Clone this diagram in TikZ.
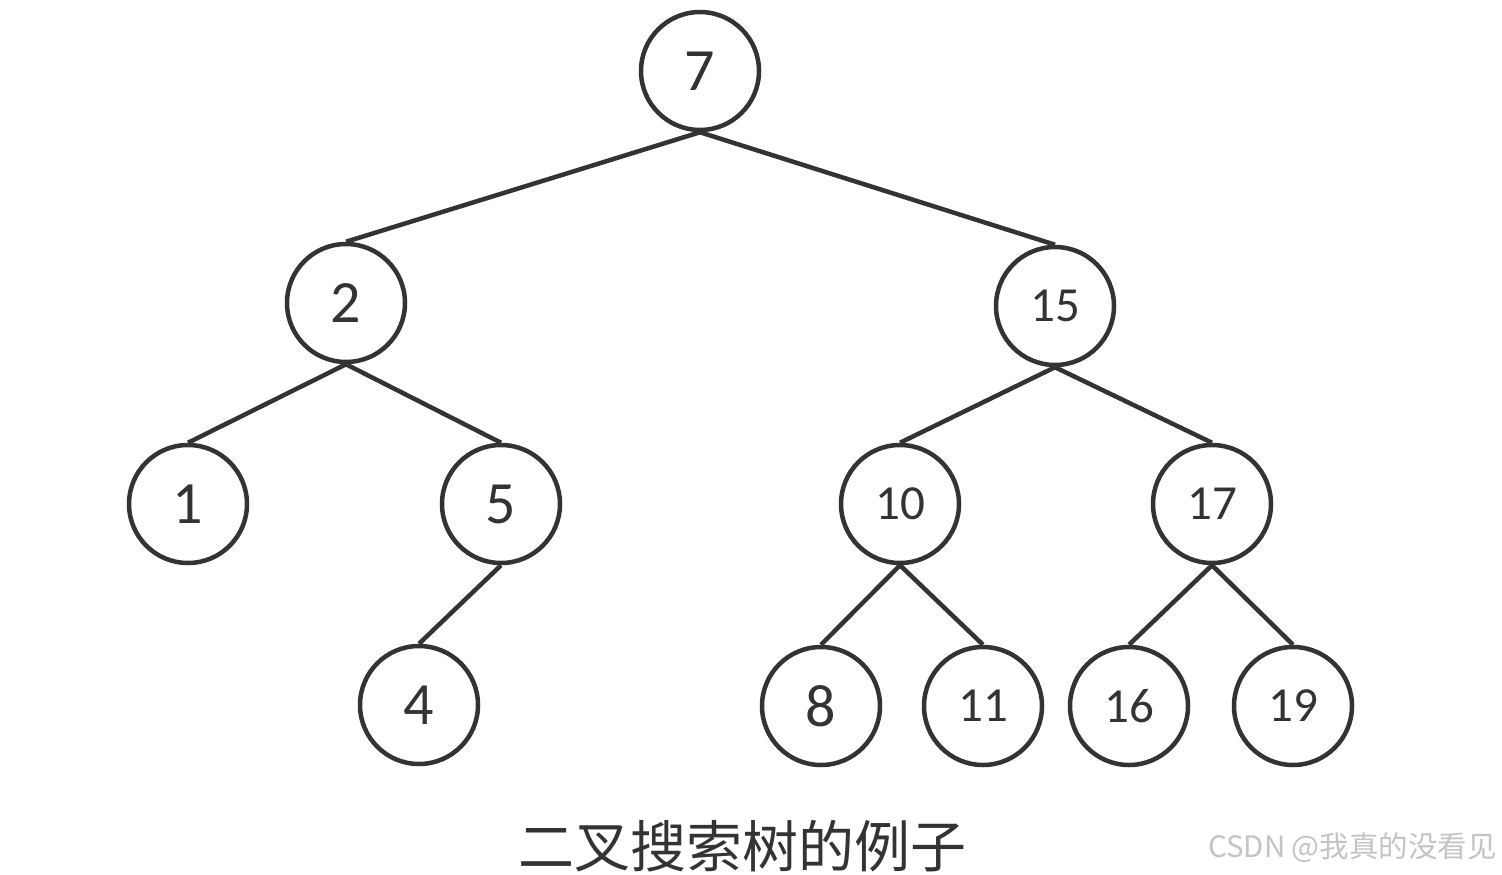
\documentclass[tikz,border=0pt]{standalone}
\usepackage{fontspec}
\setmainfont{Carlito}
\newfontfamily\cjk{Noto Sans CJK SC}
\definecolor{ink}{HTML}{333333}
\definecolor{wm}{HTML}{C4C4C4}
\tikzset{
  tnode/.style={circle, draw=ink, line width=4.5pt, minimum size=118pt, inner sep=0pt, text=ink},
  big/.style={font=\fontsize{60}{60}\selectfont},
  small/.style={font=\fontsize{49}{49}\selectfont},
  edge/.style={draw=ink, line width=4.5pt}
}
\begin{document}
\begin{tikzpicture}[x=1pt,y=-1pt]
\useasboundingbox[fill=white] (0,0) rectangle (1502,875);
\node[tnode,big] (n7) at (700,71) {7};
\node[tnode,big] (n2) at (346,303) {2};
\node[tnode,small] (n15) at (1055,306) {15};
\node[tnode,big] (n1) at (188,504) {1};
\node[tnode,big] (n5) at (501,504) {5};
\node[tnode,small] (n10) at (900,504) {10};
\node[tnode,small] (n17) at (1212,504) {17};
\node[tnode,big] (n4) at (419,705) {4};
\node[tnode,big] (n8) at (821,706) {8};
\node[tnode,small] (n11) at (983,706) {11};
\node[tnode,small] (n16) at (1129,706) {16};
\node[tnode,small] (n19) at (1293,706) {19};
\draw[edge] (n7.south) -- (n2.north);
\draw[edge] (n7.south) -- (n15.north);
\draw[edge] (n2.south) -- (n1.north);
\draw[edge] (n2.south) -- (n5.north);
\draw[edge] (n5.south) -- (n4.north);
\draw[edge] (n15.south) -- (n10.north);
\draw[edge] (n15.south) -- (n17.north);
\draw[edge] (n10.south) -- (n8.north);
\draw[edge] (n10.south) -- (n11.north);
\draw[edge] (n17.south) -- (n16.north);
\draw[edge] (n17.south) -- (n19.north);
\node[text=ink, font=\cjk\fontsize{56}{56}\selectfont, inner sep=0pt] (cap) at (742,846) {二叉搜索树的例子};
\node[text=wm, font=\cjk\fontsize{29.5}{29.5}\selectfont, inner sep=0pt, anchor=east] (wmk) at (1497,848) {CSDN @我真的没看见};
\end{tikzpicture}
\end{document}
